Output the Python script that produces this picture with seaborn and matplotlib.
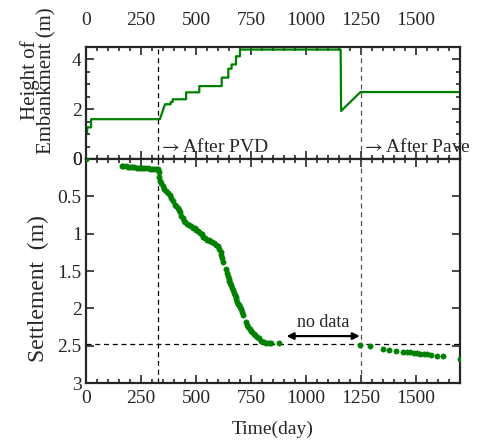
import numpy as np
import pandas as pd
import matplotlib
matplotlib.use("Agg")
import matplotlib.pyplot as plt
import seaborn as sns
from matplotlib.ticker import MultipleLocator

# ---------------- data ----------------
height_day = [0, 5, 5, 23, 23, 336, 359, 385, 385, 394, 394, 455, 455, 515, 515,
              617, 617, 647, 647, 662, 662, 682, 682, 700, 700, 1158, 1160, 1248, 1700]
height_m = [1.0, 1.0, 1.27, 1.27, 1.6, 1.6, 2.2, 2.2, 2.29, 2.29, 2.4, 2.4, 2.68, 2.68, 2.93,
            2.93, 3.27, 3.27, 3.63, 3.63, 3.8, 3.8, 4.13, 4.13, 4.4, 4.4, 1.93, 2.69, 2.69]

settle_day = [0,
              162, 170, 180, 190, 200, 210, 220, 230, 240, 250, 260, 270, 280, 290, 300, 310, 320, 328,
              330, 332, 335, 340, 348, 356, 364, 372, 380, 388, 396, 404, 410, 416, 422, 428, 434, 440,
              446, 452, 460, 468, 476, 486, 494, 502, 510, 518, 526, 534, 542, 550, 558, 566, 574, 582,
              590, 598, 606, 612, 616, 619, 621,
              636, 640, 644, 648, 652, 656, 660, 664, 668, 672, 676, 680, 684, 688, 692, 696, 700, 704,
              708, 712,
              726, 732, 738, 744, 750, 756, 762, 770, 778, 786, 796, 810, 820, 830, 840, 878,
              1245, 1290, 1352, 1380, 1410, 1440, 1460, 1475, 1490, 1505, 1520, 1535, 1552, 1570,
              1598, 1625, 1700]
settle_m = [0.0,
            0.10, 0.10, 0.10, 0.105, 0.11, 0.11, 0.11, 0.115, 0.12, 0.12, 0.12, 0.125, 0.125, 0.13,
            0.13, 0.13, 0.135, 0.14,
            0.18, 0.24, 0.29, 0.32, 0.36, 0.40, 0.43, 0.45, 0.48, 0.52, 0.56, 0.61, 0.63, 0.65, 0.68,
            0.71, 0.76, 0.79, 0.83, 0.85, 0.87, 0.88, 0.90, 0.92, 0.93, 0.95, 0.97, 0.99, 1.01, 1.04,
            1.06, 1.08, 1.09, 1.10, 1.11, 1.13, 1.15, 1.17, 1.20, 1.24, 1.28, 1.33, 1.38,
            1.47, 1.52, 1.57, 1.61, 1.63, 1.66, 1.68, 1.72, 1.75, 1.79, 1.82, 1.85, 1.88, 1.91, 1.94,
            1.96, 1.98, 2.01, 2.05, 2.09,
            2.18, 2.22, 2.25, 2.28, 2.30, 2.32, 2.34, 2.36, 2.38, 2.40, 2.43, 2.45, 2.46, 2.46, 2.46, 2.46,
            2.49, 2.50, 2.545, 2.56, 2.57, 2.58, 2.585, 2.585, 2.59, 2.60, 2.605, 2.61, 2.615, 2.62,
            2.63, 2.63, 2.68]

pvd_day = 325
pave_day = 1250
ref_settle = 2.48
nodata_start, nodata_end = 912, 1245
x_ticks = [0, 250, 500, 750, 1000, 1250, 1500]

# ---------------- style ----------------
sns.set_style("ticks")
plt.rcParams['font.family'] = ['Liberation Serif', 'DejaVu Serif']
plt.rcParams['font.size'] = 14
plt.rcParams['axes.linewidth'] = 1.6
plt.rcParams['mathtext.fontset'] = 'stix'

green = "#008000"

fig = plt.figure(figsize=(4.78, 4.44), dpi=100)
ax1 = fig.add_axes([0.180, 0.642, 0.782, 0.252])
ax2 = fig.add_axes([0.180, 0.137, 0.782, 0.505])

hdf = pd.DataFrame({"day": height_day, "h": height_m})
sdf = pd.DataFrame({"day": settle_day, "s": settle_m})

sns.lineplot(data=hdf, x="day", y="h", sort=False, color=green, lw=1.6, ax=ax1, estimator=None)
sns.scatterplot(data=sdf, x="day", y="s", color=green, s=14, edgecolor=green, linewidth=0.5,
                ax=ax2, clip_on=True, zorder=3)

for ax in (ax1, ax2):
    ax.set_xlim(0, 1700)
    ax.axvline(pvd_day, color="black", ls=(0, (4, 3)), lw=0.9)
    ax.axvline(pave_day, color="#555555", ls=(0, (4, 3)), lw=0.9)
    ax.set_xticks(x_ticks)
    ax.xaxis.set_minor_locator(MultipleLocator(50))
    ax.tick_params(which='both', direction='in', top=True, right=True, width=1.2)
    ax.tick_params(which='major', length=6, labelsize=14, pad=3)
    ax.tick_params(which='minor', length=3)
    ax.set_xlabel("")

# top panel
ax1.set_ylim(0, 4.5)
ax1.set_yticks([0, 2, 4])
ax1.yaxis.set_minor_locator(MultipleLocator(0.5))
ax1.tick_params(axis='x', labelbottom=False, labeltop=True, pad=13)
ax1.set_ylabel("Height of\nEmbankment (m)", fontsize=15, linespacing=0.85)
ax1.yaxis.set_label_coords(-0.078, 0.70)
ax1.text(pvd_day + 6, 0.48, r"$\rightarrow$After PVD", fontsize=14, va='center', ha='left')
ax1.text(pave_day + 6, 0.48, r"$\rightarrow$After Pave", fontsize=14, va='center', ha='left',
         clip_on=False)

# bottom panel
ax2.set_ylim(3, 0)
ax2.set_yticks([0, 0.5, 1, 1.5, 2, 2.5, 3])
ax2.set_yticklabels(["0", "0.5", "1", "1.5", "2", "2.5", "3"])
ax2.yaxis.set_minor_locator(MultipleLocator(0.5))
ax2.tick_params(axis='x', pad=5)
ax2.axhline(ref_settle, color="black", ls=(0, (4, 3)), lw=0.9)
ax2.set_ylabel("Settlement  (m)", fontsize=17)
ax2.yaxis.set_label_coords(-0.098, 0.42)
ax2.set_xlabel("Time(day)", fontsize=14, labelpad=10)
ax2.annotate("", xy=(nodata_start, 2.37), xytext=(nodata_end, 2.37),
             arrowprops=dict(arrowstyle="<|-|>", color="black", lw=1.6,
                             mutation_scale=10, shrinkA=0, shrinkB=0))
ax2.text((nodata_start + nodata_end) / 2, 2.30, "no data", fontsize=13, ha='center', va='bottom')

fig.savefig("out.png", dpi=100)
